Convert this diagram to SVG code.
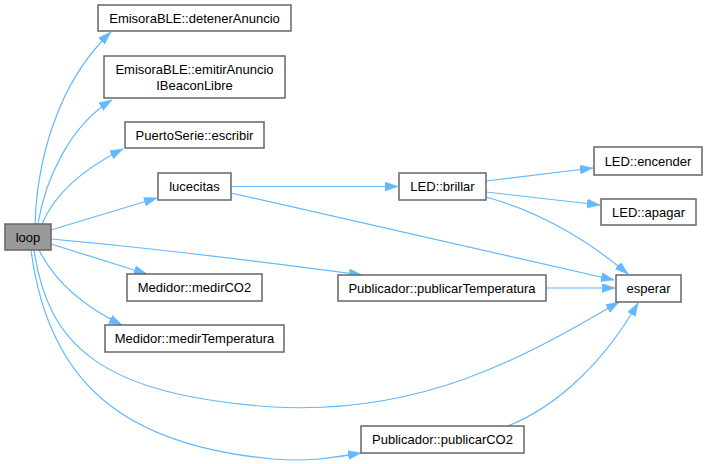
<svg xmlns="http://www.w3.org/2000/svg" width="708" height="464" viewBox="0 0 708 464">
<style>
.n rect{fill:#ffffff;stroke:#666666;stroke-width:1.5}
#loop rect{fill:#999999}
text{font-family:"Liberation Sans",Arial,sans-serif;font-size:13px;fill:#000000;text-anchor:middle}
.e path{fill:none;stroke:#63b8ff;stroke-width:1.2;marker-end:url(#ah)}
</style>
<defs>
<marker id="ah" markerUnits="userSpaceOnUse" markerWidth="14" markerHeight="10" refX="13" refY="4.5" orient="auto">
<path d="M0,0 L13,4.5 L0,9 z" fill="#63b8ff" stroke="#63b8ff" stroke-width="0.5"/>
</marker>
</defs>
<rect width="708" height="464" fill="#ffffff"/>
<g id="edges" class="e">
<path d="M35,224 C37,165 55,85 111,32"/>
<path d="M38,224 C45,180 70,125 112,100"/>
<path d="M42,224 C55,193 85,168 123,149"/>
<path d="M51,230 L157,198"/>
<path d="M51,244 L147,274"/>
<path d="M39,250 C55,282 85,307 122,325"/>
<path d="M51,239 C140,247 250,260 362,275"/>
<path d="M34,250 C48,345 100,395 273,407 C420,415 520,360 619,302"/>
<path d="M31,250 C48,380 120,445 273,459 C310,462 330,458 361,453"/>
<path d="M231,186.5 L398,186.5"/>
<path d="M231,193 L614,280"/>
<path d="M486,181 L593,168"/>
<path d="M486,192 L600,205"/>
<path d="M486,197 C540,212 585,238 628,274"/>
<path d="M546,288 L615,288"/>
<path d="M508,426 C560,405 605,360 638,303"/>
</g>
<g id="loop" class="n"><rect x="5" y="224" width="46" height="26"/><text x="28" y="242">loop</text></g>
<g id="detenerAnuncio" class="n"><rect x="98" y="5" width="193" height="26"/><text x="194.5" y="23">EmisoraBLE::detenerAnuncio</text></g>
<g id="emitirAnuncio" class="n"><rect x="104" y="56" width="181" height="42"/><text x="194.5" y="74">EmisoraBLE::emitirAnuncio</text><text x="194.5" y="90">IBeaconLibre</text></g>
<g id="escribir" class="n"><rect x="125" y="122" width="139" height="26"/><text x="194.5" y="140">PuertoSerie::escribir</text></g>
<g id="lucecitas" class="n"><rect x="158" y="173" width="73" height="27"/><text x="194.5" y="191">lucecitas</text></g>
<g id="medirCO2" class="n"><rect x="127" y="274" width="135" height="27"/><text x="194.5" y="292">Medidor::medirCO2</text></g>
<g id="medirTemperatura" class="n"><rect x="105" y="325" width="179" height="27"/><text x="194.5" y="343">Medidor::medirTemperatura</text></g>
<g id="brillar" class="n"><rect x="399" y="173" width="87" height="27"/><text x="442.5" y="191">LED::brillar</text></g>
<g id="encender" class="n"><rect x="594" y="147" width="108" height="28"/><text x="648" y="166">LED::encender</text></g>
<g id="apagar" class="n"><rect x="601" y="199" width="95" height="26"/><text x="648.5" y="217">LED::apagar</text></g>
<g id="esperar" class="n"><rect x="616" y="275" width="65" height="27"/><text x="648.5" y="293">esperar</text></g>
<g id="publicarTemperatura" class="n"><rect x="338" y="275" width="208" height="26"/><text x="442" y="293">Publicador::publicarTemperatura</text></g>
<g id="publicarCO2" class="n"><rect x="361" y="426" width="163" height="27"/><text x="442.5" y="444">Publicador::publicarCO2</text></g>
</svg>
